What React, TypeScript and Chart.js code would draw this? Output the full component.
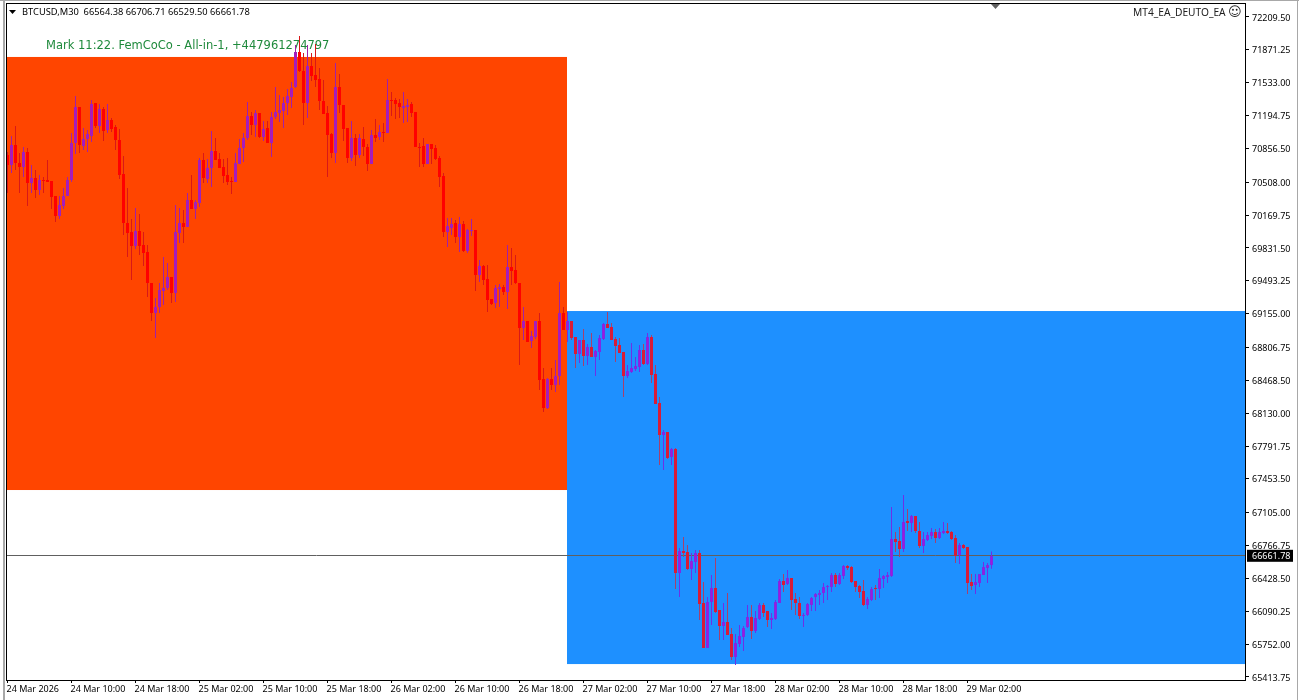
import React, { useEffect, useRef } from "react";
import { Chart, registerables } from "chart.js";

Chart.register(...registerables);

const openPrices = [
70789,70686,70891,70706,70665,70819,70500,70552,70428,70531,70531,70521,70366,70160,70263,70366,70531,70912,71283,70881,
70953,70984,71324,71087,71262,71046,71149,71077,70943,70593,70088,69996,69851,70006,69862,69790,69471,69162,69223,69388,
69419,69533,69368,69985,70088,70047,70325,70233,70294,70737,70541,70655,70830,70747,70665,70583,70521,70510,70696,70861,
70964,71190,71098,71221,70974,71067,70912,71180,71221,71242,71324,71386,71489,71849,71653,71324,71705,71612,71571,71345,
71221,71005,70809,71489,71303,71067,70758,70964,70789,70953,70871,70696,70995,70974,71025,71015,71355,71355,71324,71272,
71283,71314,71231,70871,70881,70696,70902,70861,70758,70572,69996,70037,70088,69944,70078,69800,70006,70017,69553,69646,
69512,69306,69265,69409,69429,69378,69635,69604,69471,69007,69079,68873,68914,69079,68482,68183,68482,68420,68513,69162,
68987,69079,68914,68740,68883,68719,68811,68708,68760,68894,69049,69018,68894,68832,68760,68513,68554,68585,68606,68781,
68636,68914,68534,68235,67906,67936,67679,67761,66484,66711,66701,66526,66598,66690,66176,65712,66186,66330,66104,65939,
65980,65856,65620,65754,65826,65929,66032,65888,66011,66155,66094,66001,66011,66176,66402,66371,66433,66217,66176,66042,
66052,66155,66237,66258,66279,66340,66340,66464,66371,66454,66557,66547,66402,66351,66299,66155,66207,66330,66320,66423,
66444,66454,66835,66814,66732,67020,66999,67072,66917,66762,66824,66865,66907,66845,66896,66917,66907,66845,66670,66773,
66752,66392,66361,66382,66464,66536,66564.38];

const highPrices = [
70820,70984,71087,70809,70871,70861,70686,70634,70583,70562,70737,70521,70366,70366,70449,70562,71015,71396,71283,71067,
71046,71355,71324,71314,71283,71314,71170,71098,71056,70778,70449,70129,70243,70181,69996,69862,69471,69316,69471,69738,
69676,69533,70274,70243,70222,70398,70583,70325,70758,70809,70747,71036,70964,70809,70747,70758,70562,70809,70953,71015,
71334,71231,71252,71221,71139,71139,71231,71489,71406,71386,71468,71540,71921,72014,71839,71921,71839,71931,71684,71561,
71293,71015,71736,71623,71303,71067,71139,71005,71005,71077,70902,71046,71159,71098,71118,71571,71437,71375,71365,71437,
71365,71334,71231,70912,70964,70902,70902,70891,70778,70603,70140,70140,70119,70150,70109,70027,70129,70017,69708,69656,
69656,69306,69450,69460,69450,69862,69831,69759,69471,69223,69079,68976,69079,69162,68595,68492,68595,68677,69481,69223,
69172,69079,68914,68883,68997,68842,68955,68781,68935,69059,69172,69059,68914,68904,68760,68626,68853,68708,68832,68842,
68955,68935,68626,68297,67957,67936,67772,67772,66742,66855,66773,66690,66721,66721,66392,66237,66464,66639,66104,66176,
66279,65918,65856,65949,65939,66155,66155,66094,66176,66176,66094,66073,66207,66423,66474,66516,66433,66279,66237,66073,
66176,66237,66279,66310,66382,66361,66485,66485,66485,66567,66567,66557,66402,66361,66413,66237,66340,66361,66526,66464,
66495,67164,66907,66958,67288,67144,67082,67072,67010,66907,66907,66948,66938,66948,67010,67000,66917,66876,66794,66783,
66752,66474,66474,66474,66598,66588,66706.71];

const lowPrices = [
70397,70603,70634,70397,70562,70263,70397,70346,70377,70397,70510,70233,70099,70129,70233,70366,70510,70799,70809,70840,
70819,70922,71067,71015,70933,71015,71025,70840,70541,69965,69738,69501,69821,69759,69646,69326,69079,68904,69162,69244,
69399,69265,69275,69882,69882,70047,70233,70129,70253,70500,70500,70459,70737,70655,70500,70480,70387,70510,70696,70716,
70943,70995,70974,70964,70933,70912,70768,71159,71128,71067,71200,71272,71478,71643,71098,71170,71550,71489,71252,71211,
70562,70758,70706,71221,70933,70706,70727,70675,70758,70778,70624,70696,70922,70943,70922,71015,71190,71159,71170,71118,
71128,71180,70871,70665,70665,70696,70696,70737,70459,69944,69841,69965,69882,69790,69790,69780,69955,69388,69481,69450,
69172,69244,69213,69223,69347,69203,69450,69460,68626,68883,68863,68801,68894,68369,68142,68173,68369,68348,68420,68987,
68863,68883,68595,68647,68616,68626,68708,68513,68677,68883,69007,68883,68657,68750,68297,68492,68544,68564,68554,68626,
68626,68441,68225,67596,67545,67658,67596,66320,66237,66649,66516,66413,66485,66001,65712,65712,65949,66073,65795,65795,
65846,65589,65537,65723,65682,65918,65805,65867,66001,66032,65929,65908,66001,66176,66289,66361,66104,66052,66011,65929,
66042,66094,66094,66155,66176,66207,66289,66340,66361,66423,66516,66382,66289,66227,66145,66114,66197,66207,66227,66330,
66382,66444,66701,66649,66701,66917,66907,66897,66742,66690,66814,66835,66794,66835,66886,66886,66824,66587,66577,66732,
66268,66310,66268,66340,66464,66382,66529.5];

const closePrices = [
70686,70891,70706,70665,70819,70500,70552,70428,70531,70521,70510,70356,70160,70274,70366,70531,70912,71283,70891,70953,
71005,71314,71087,71262,71036,71149,71056,70943,70583,70088,69985,69851,70006,69851,69780,69471,69162,69223,69399,69419,
69533,69368,69996,70088,70047,70325,70233,70304,70737,70552,70655,70830,70737,70655,70572,70510,70510,70706,70861,70964,
71190,71098,71221,70974,71056,70912,71180,71231,71252,71324,71396,71478,71849,71653,71324,71705,71602,71561,71345,71211,
70995,70809,71489,71303,71056,70758,70964,70789,70964,70871,70696,70995,70964,71025,71015,71355,71345,71314,71283,71293,
71303,71221,70871,70861,70696,70902,70850,70747,70562,69996,70057,70078,69944,70078,69800,70017,70017,69553,69646,69502,
69296,69255,69419,69429,69378,69635,69594,69471,69007,69079,68863,68924,69079,68472,68183,68482,68420,68513,69162,68987,
69079,68904,68740,68883,68719,68811,68708,68770,68904,69049,69007,68883,68822,68750,68513,68565,68595,68616,68781,68636,
68914,68523,68225,67906,67936,67668,67761,66484,66711,66690,66526,66608,66690,66166,65712,66186,66330,66083,65939,65980,
65846,65620,65764,65836,65918,66032,65888,66021,66155,66073,66001,66021,66186,66402,66361,66433,66207,66176,66042,66052,
66166,66227,66268,66279,66340,66351,66464,66371,66464,66557,66536,66392,66340,66289,66155,66217,66320,66320,66433,66454,
66464,66835,66804,66732,67010,66999,67072,66917,66762,66835,66876,66907,66845,66907,66917,66896,66835,66660,66773,66742,
66382,66351,66392,66474,66546,66567,66661.78];

const zoneStartBars = [-0.125, 139.875];
const zoneEndBars = [139.875, 309.375];
const zoneTopPrices = [71798, 69182];
const zoneBottomPrices = [67339, 65547];
const zoneColors = ["#FF4500", "#1E90FF"];

const yTickValues = [72209.5,71871.25,71533,71194.75,70856.5,70508,70169.75,69831.5,69493.25,69155,68806.75,68468.5,68130,67791.75,67453.5,67105,66766.75,66428.5,66090.25,65752,65413.75];
const xTickBars = [0,16,32,48,64,80,96,112,128,144,160,176,192,208,224,240];
const xTickLabels = ["24 Mar 2026","24 Mar 10:00","24 Mar 18:00","25 Mar 02:00","25 Mar 10:00","25 Mar 18:00","26 Mar 02:00","26 Mar 10:00","26 Mar 18:00","27 Mar 02:00","27 Mar 10:00","27 Mar 18:00","28 Mar 02:00","28 Mar 10:00","28 Mar 18:00","29 Mar 02:00"];

const lastPrice = 66661.78;
const headerText = "BTCUSD,M30  66564.38 66706.71 66529.50 66661.78";
const markText = "Mark 11:22. FemCoCo - All-in-1, +447961274797";
const expertText = "MT4_EA_DEUTO_EA";
const AXIS_FONT = "Noto Sans";

const splitBar = 140;
const isUp = (i: number) => closePrices[i] >= openPrices[i];
const inRed = (i: number) => i < splitBar;

const bodyFill = (i: number) =>
  isUp(i) ? (inRed(i) ? "#B810BC" : "#A018DC") : inRed(i) ? "#FF0000" : "#D81C38";
const bodyEdge = (i: number) =>
  isUp(i) ? (inRed(i) ? "#9A24BC" : "#7E2AE4") : inRed(i) ? "#FF0000" : "#D81C38";
const wickColor = (i: number) =>
  isUp(i) ? (inRed(i) ? "#A020A8" : "#6E30E6") : inRed(i) ? "#D81818" : "#A8406C";

const clearScalePadding = (scale: any) => {
  scale.paddingTop = 0;
  scale.paddingBottom = 0;
  scale.paddingLeft = 0;
  scale.paddingRight = 0;
};

const backdrop = {
  id: "backdrop",
  beforeDatasetsDraw(chart: any) {
    const { ctx, scales, chartArea } = chart;
    const { x, y } = scales;
    ctx.save();
    ctx.beginPath();
    ctx.rect(chartArea.left, chartArea.top, chartArea.right - chartArea.left, chartArea.bottom - chartArea.top);
    ctx.clip();
    zoneColors.forEach((color, i) => {
      const l = x.getPixelForValue(zoneStartBars[i]);
      const r = x.getPixelForValue(zoneEndBars[i]);
      const t = y.getPixelForValue(zoneTopPrices[i]);
      const b = y.getPixelForValue(zoneBottomPrices[i]);
      ctx.fillStyle = color;
      ctx.fillRect(l, t, r - l, b - t);
    });
    const py = Math.floor(y.getPixelForValue(lastPrice)) + 0.5;
    ctx.strokeStyle = "#606060";
    ctx.lineWidth = 1;
    ctx.beginPath();
    ctx.moveTo(chartArea.left, py);
    ctx.lineTo(chartArea.right, py);
    ctx.stroke();
    ctx.fillStyle = "#1F8A3C";
    ctx.font = "11.5px 'DejaVu Sans'";
    ctx.textBaseline = "middle";
    ctx.textAlign = "left";
    ctx.fillText(markText, 46, 46);
    ctx.restore();
  },
  afterDraw(chart: any) {
    const { ctx, scales } = chart;
    const { y } = scales;
    ctx.save();
    // window frame
    ctx.fillStyle = "#A8A8A8";
    ctx.fillRect(0, 0, 1299, 1);
    ctx.fillRect(3, 0, 2, 700);
    ctx.fillRect(1297, 0, 1, 700);
    ctx.strokeStyle = "#000000";
    ctx.lineWidth = 1;
    ctx.strokeRect(6.5, 3.5, 1239, 677);
    // chart-shift marker
    ctx.fillStyle = "#606060";
    ctx.beginPath();
    ctx.moveTo(991, 4);
    ctx.lineTo(1000, 4);
    ctx.lineTo(995.5, 9);
    ctx.closePath();
    ctx.fill();
    // header
    ctx.fillStyle = "#000000";
    ctx.beginPath();
    ctx.moveTo(9, 10);
    ctx.lineTo(16, 10);
    ctx.lineTo(12.5, 14);
    ctx.closePath();
    ctx.fill();
    ctx.font = `9.3px '${AXIS_FONT}'`;
    ctx.textBaseline = "middle";
    ctx.textAlign = "left";
    ctx.fillText(headerText, 22, 12);
    ctx.fillStyle = "#202020";
    ctx.font = `10.2px '${AXIS_FONT}'`;
    ctx.fillText(expertText, 1133, 13);
    ctx.font = "13px 'DejaVu Sans'";
    ctx.fillText("\u263A", 1228, 13);
    // last-price tag
    const py = y.getPixelForValue(lastPrice);
    ctx.fillStyle = "#000000";
    ctx.fillRect(1247, py - 6, 46, 12);
    ctx.fillStyle = "#FFFFFF";
    ctx.font = `9px '${AXIS_FONT}'`;
    ctx.fillText(lastPrice.toFixed(2), 1252, py + 0.5);
    ctx.restore();
  },
};

export default function App() {
  const ref = useRef<HTMLCanvasElement>(null);
  useEffect(() => {
    document.body.style.margin = "0";
    document.body.style.background = "#ffffff";
    const bars = openPrices.map((_, i) => i);
    const chart = new Chart(ref.current as HTMLCanvasElement, {
      type: "bar",
      data: {
        datasets: [
          {
            label: "Body",
            order: 1,
            data: bars.map((i) => ({ x: i, y: [openPrices[i], closePrices[i]] })) as any,
            backgroundColor: bars.map(bodyFill),
            borderColor: bars.map(bodyEdge),
            borderWidth: 1,
            borderSkipped: false,
            barThickness: 3,
            inflateAmount: 0,
            grouped: false,
          } as any,
          {
            label: "Wick",
            order: 2,
            data: bars.map((i) => ({ x: i, y: [lowPrices[i], highPrices[i]] })) as any,
            backgroundColor: bars.map(wickColor),
            borderWidth: 0,
            barThickness: 1,
            inflateAmount: 0,
            grouped: false,
          } as any,
        ],
      },
      options: {
        responsive: false,
        animation: false,
        layout: { autoPadding: false, padding: { left: 7, top: 3, right: 0, bottom: 0 } },
        plugins: { legend: { display: false }, tooltip: { enabled: false } },
        scales: {
          x: {
            type: "linear",
            offset: false,
            min: -0.125,
            max: 309.375,
            afterBuildTicks(scale: any) {
              scale.ticks = xTickBars.map((value) => ({ value }));
            },
            afterFit(scale: any) {
              scale.height = 20;
              clearScalePadding(scale);
            },
            border: { display: false },
            grid: { display: true, offset: false, drawOnChartArea: false, drawTicks: true, tickLength: 3, color: "#000000" },
            ticks: {
              autoSkip: false,
              maxRotation: 0,
              align: "start",
              padding: 1,
              labelOffset: -1,
              color: "#000000",
              font: { family: AXIS_FONT, size: 9 },
              callback: (_v: any, i: number) => xTickLabels[i],
            },
          },
          y: {
            type: "linear",
            position: "right",
            min: 65382.86,
            max: 72353.65,
            afterBuildTicks(scale: any) {
              scale.ticks = yTickValues.map((value) => ({ value }));
            },
            afterFit(scale: any) {
              scale.width = 54;
              clearScalePadding(scale);
            },
            border: { display: false },
            grid: { display: true, drawOnChartArea: false, drawTicks: true, tickLength: 4, color: "#000000" },
            ticks: {
              autoSkip: false,
              padding: 3,
              labelOffset: 1,
              color: "#000000",
              font: { family: AXIS_FONT, size: 9 },
              callback: (v: any) => Number(v).toFixed(2),
            },
          },
        },
      } as any,
      plugins: [backdrop],
    });
    return () => chart.destroy();
  }, []);
  return <canvas ref={ref} width={1299} height={700} style={{ display: "block" }} />;
}
